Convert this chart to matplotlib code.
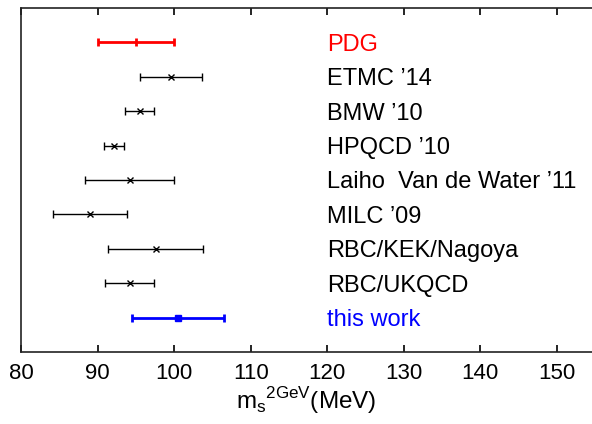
import numpy as np
import matplotlib
matplotlib.use("Agg")
import matplotlib.pyplot as plt

plt.rcParams["font.family"] = ["Liberation Sans", "DejaVu Sans"]

labels = ["PDG", "ETMC \u201914", "BMW \u201910", "HPQCD \u201910",
          "Laiho  Van de Water \u201911", "MILC \u201909", "RBC/KEK/Nagoya",
          "RBC/UKQCD", "this work"]
values = [95.0, 99.6, 95.5, 92.2, 94.2, 89.0, 97.6, 94.2, 100.5]
err_lo = [5.0, 4.1, 1.9, 1.3, 5.8, 4.8, 6.2, 3.2, 6.0]
err_hi = [5.0, 4.1, 1.9, 1.3, 5.8, 4.8, 6.2, 3.2, 6.0]
colors = ["red", "black", "black", "black", "black", "black", "black", "black", "blue"]


def main():
    fig = plt.figure(figsize=(5.92, 4.24), dpi=100)
    ax = fig.add_axes([0.0355, 0.17, 0.9645, 0.811])
    n = len(labels)
    ys = np.arange(n, 0, -1)

    for i in range(n):
        c = colors[i]
        if c == "black":
            ax.errorbar(values[i], ys[i], xerr=[[err_lo[i]], [err_hi[i]]],
                        fmt="x", color="black", ms=5, mew=1.0, lw=1.0,
                        capsize=3, capthick=1.0)
        elif c == "red":
            ax.errorbar(values[i], ys[i], xerr=[[err_lo[i]], [err_hi[i]]],
                        fmt="|", color="red", ms=6, mew=2, lw=2,
                        capsize=3, capthick=2)
        else:
            ax.errorbar(values[i], ys[i], xerr=[[err_lo[i]], [err_hi[i]]],
                        fmt="s", color="blue", ms=5, lw=2,
                        capsize=3, capthick=2)
        ax.text(120, ys[i], labels[i], color=c, fontsize=17,
                ha="left", va="center_baseline")

    ax.set_xlim(80, 154.6)
    ax.set_ylim(0, n + 1)
    ax.set_yticks([])
    ax.set_xticks([80, 90, 100, 110, 120, 130, 140, 150])
    ax.tick_params(axis="x", direction="in", top=True, length=5, width=1.2,
                   labelsize=16, pad=8)
    for s in ["left", "top", "bottom"]:
        ax.spines[s].set_linewidth(1.2)
        ax.spines[s].set_color("#222222")
    ax.spines["right"].set_visible(False)
    ax.set_xlabel(r"m$_\mathregular{s}$$^\mathregular{2GeV}$(MeV)", fontsize=17.5,
                  labelpad=1)
    fig.savefig("out.png", dpi=100)


if __name__ == "__main__":
    main()
